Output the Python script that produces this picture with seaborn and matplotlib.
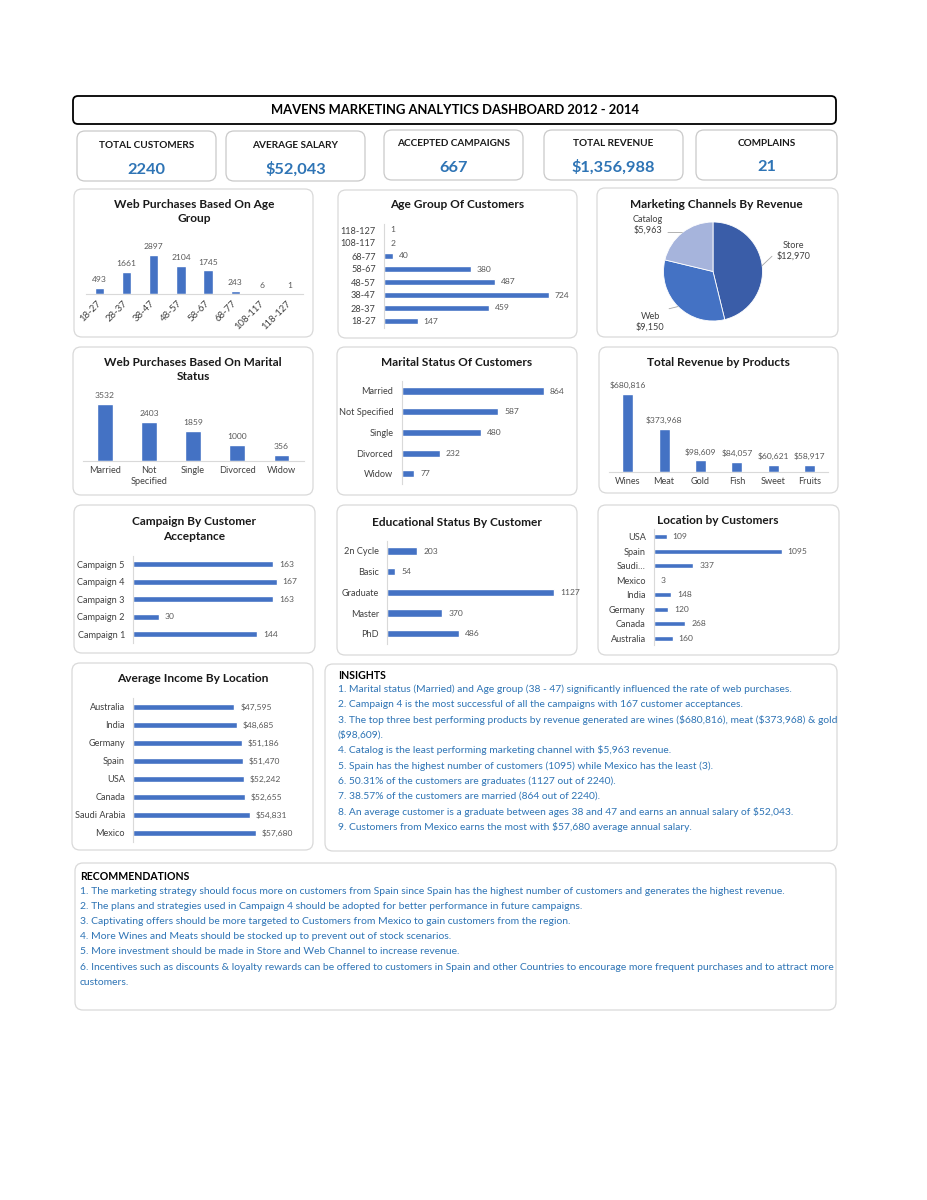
import matplotlib
matplotlib.use('Agg')
import matplotlib.pyplot as plt
from matplotlib.patches import FancyBboxPatch
import numpy as np
import pandas as pd
import seaborn as sns

# ---------------- data ----------------
title_text = "MAVENS MARKETING ANALYTICS DASHBOARD 2012 - 2014"
kpi_labels = ["TOTAL CUSTOMERS", "AVERAGE SALARY", "ACCEPTED CAMPAIGNS", "TOTAL REVENUE", "COMPLAINS"]
kpi_values = ["2240", "$52,043", "667", "$1,356,988", "21"]

age_groups = ["18-27", "28-37", "38-47", "48-57", "58-67", "68-77", "108-117", "118-127"]
web_by_age = [493, 1661, 2897, 2104, 1745, 243, 6, 1]
cust_by_age = [147, 459, 724, 487, 380, 40, 2, 1]

channels = ["Store", "Web", "Catalog"]
channel_rev = [12970, 9150, 5963]

marital = ["Married", "Not Specified", "Single", "Divorced", "Widow"]
marital_ticks = ["Married", "Not\nSpecified", "Single", "Divorced", "Widow"]
web_by_marital = [3532, 2403, 1859, 1000, 356]
cust_by_marital = [864, 587, 480, 232, 77]

products = ["Wines", "Meat", "Gold", "Fish", "Sweet", "Fruits"]
product_rev = [680816, 373968, 98609, 84057, 60621, 58917]

campaigns = ["Campaign 5", "Campaign 4", "Campaign 3", "Campaign 2", "Campaign 1"]
campaign_acc = [163, 167, 163, 30, 144]

education = ["2n Cycle", "Basic", "Graduate", "Master", "PhD"]
edu_cust = [203, 54, 1127, 370, 486]

locations = ["USA", "Spain", "Saudi\u2026", "Mexico", "India", "Germany", "Canada", "Australia"]
loc_cust = [109, 1095, 337, 3, 148, 120, 268, 160]

income_locs = ["Australia", "India", "Germany", "Spain", "USA", "Canada", "Saudi Arabia", "Mexico"]
income_vals = [47595, 48685, 51186, 51470, 52242, 52655, 54831, 57680]

insights = [
    "1. Marital status (Married) and Age group (38 - 47) significantly influenced the rate of web purchases.",
    "2. Campaign 4 is the most successful of all the campaigns with 167 customer acceptances.",
    "3. The top three best performing products by revenue generated are wines ($680,816), meat ($373,968) & gold",
    "($98,609).",
    "4. Catalog is the least performing marketing channel with $5,963 revenue.",
    "5. Spain has the highest number of customers (1095) while Mexico has the least (3).",
    "6. 50.31% of the customers are graduates (1127 out of 2240).",
    "7. 38.57% of the customers are married (864 out of 2240).",
    "8. An average customer is a graduate between ages 38 and 47 and earns an annual salary of $52,043.",
    "9. Customers from Mexico earns the most with $57,680 average annual salary.",
]
recommendations = [
    "1. The marketing strategy should focus more on customers from Spain since Spain has the highest number of customers and generates the highest revenue.",
    "2. The plans and strategies used in Campaign 4 should be adopted for better performance in future campaigns.",
    "3. Captivating offers should be more targeted to Customers from Mexico to gain customers from the region.",
    "4. More Wines and Meats should be stocked up to prevent out of stock scenarios.",
    "5. More investment should be made in Store and Web Channel to increase revenue.",
    "6. Incentives such as discounts & loyalty rewards can be offered to customers in Spain and other Countries to encourage more frequent purchases and to attract more",
    "customers.",
]

# ---------------- style ----------------
sns.set_style("white")
plt.rcParams['font.family'] = ['Lato', 'DejaVu Sans']

BLUE = '#4472C4'
TICK_C = '#404040'
VAL_C = '#595959'
AXIS_C = '#D9D9D9'
PANEL_C = '#D9D9D9'
TXT_BLUE = '#2E74B5'
TITLE_C = '#1A1A1A'
TICK_FS = 6.6
VAL_FS = 6.1

W, H, DPI = 928, 1200, 100
fig = plt.figure(figsize=(W / DPI, H / DPI), dpi=DPI)
fig.patch.set_facecolor('white')

bg = fig.add_axes([0, 0, 1, 1])
bg.set_xlim(0, W)
bg.set_ylim(H, 0)
bg.axis('off')


def rbox(x0, y0, x1, y1, ec=PANEL_C, lw=0.9, r=8):
    bg.add_patch(FancyBboxPatch((x0, y0), x1 - x0, y1 - y0,
                                boxstyle=f"round,pad=0,rounding_size={r}",
                                fc='white', ec=ec, lw=lw, zorder=1))


def btext(x, y, s, **kw):
    kw.setdefault('ha', 'center')
    kw.setdefault('va', 'center')
    bg.text(x, y, s, parse_math=False, zorder=3, **kw)


def px_axes(x0, y0, x1, y1):
    ax = fig.add_axes([x0 / W, 1 - y1 / H, (x1 - x0) / W, (y1 - y0) / H])
    ax.patch.set_alpha(0)
    return ax


def money(v):
    return f"${v:,}"


def plain(v):
    return f"{v}"


def clean(ax):
    for s in ax.spines.values():
        s.set_visible(False)
    ax.set_xlabel('')
    ax.set_ylabel('')


def vbar(cats, vals, labels, c0, step, base, ppu, height_px, width, fmt, rot=False):
    n = len(cats)
    x0 = c0 - step / 2
    ax = px_axes(x0, base - height_px, x0 + n * step, base)
    sns.barplot(x=cats, y=vals, color=BLUE, saturation=1, width=width, ax=ax)
    clean(ax)
    ax.set_xlim(-0.5, n - 0.5)
    ax.set_ylim(0, height_px / ppu)
    ax.spines['bottom'].set_visible(True)
    ax.spines['bottom'].set_color(AXIS_C)
    ax.spines['bottom'].set_linewidth(0.8)
    ax.set_yticks([])
    ax.set_xticks(range(n))
    if rot:
        ax.set_xticklabels(labels, rotation=45, ha='right', va='center', rotation_mode='anchor')
        ax.tick_params(axis='x', which='major', length=0, pad=5.5, labelsize=TICK_FS + 0.3, labelcolor=TICK_C)
    else:
        ax.set_xticklabels(labels, linespacing=1.3)
        ax.tick_params(axis='x', which='major', length=0, pad=4, labelsize=TICK_FS, labelcolor=TICK_C)
    ax.set_xticks(np.arange(-0.5, n), minor=True)
    ax.tick_params(axis='x', which='minor', length=3, color=AXIS_C, width=0.8)
    ax.bar_label(ax.containers[0], labels=[fmt(v) for v in vals], padding=3.5,
                 fontsize=VAL_FS, color=VAL_C, parse_math=False)
    return ax


def hbar(cats, vals, axis_x, ppu, r0, step, width, fmt, right_px):
    n = len(cats)
    y0 = r0 - step / 2
    ax = px_axes(axis_x, y0, right_px, y0 + n * step)
    sns.barplot(x=vals, y=cats, orient='h', color=BLUE, saturation=1, width=width, ax=ax)
    clean(ax)
    ax.set_ylim(n - 0.5, -0.5)
    ax.set_xlim(0, (right_px - axis_x) / ppu)
    ax.spines['left'].set_visible(True)
    ax.spines['left'].set_color(AXIS_C)
    ax.spines['left'].set_linewidth(0.8)
    ax.set_xticks([])
    ax.set_yticks(range(n))
    ax.set_yticklabels(cats)
    ax.tick_params(axis='y', which='major', length=0, pad=6.0, labelsize=TICK_FS, labelcolor=TICK_C)
    ax.set_yticks(np.arange(-0.5, n), minor=True)
    ax.tick_params(axis='y', which='minor', length=2.5, color=AXIS_C, width=0.8)
    ax.bar_label(ax.containers[0], labels=[fmt(v) for v in vals], padding=4.3,
                 fontsize=VAL_FS, color=VAL_C, parse_math=False)
    return ax


# ---------------- header ----------------
rbox(73, 96, 836, 124, ec='#000000', lw=1.3, r=5)
btext(455, 110, title_text, fontsize=9.4, fontweight='bold', color='#000000')

kpi_boxes = [(77, 131, 216, 181), (226, 131, 365, 181), (384, 130, 523, 180),
             (544, 130, 683, 180), (696, 130, 837, 180)]
kpi_label_y = [146, 146, 144, 144, 144]
kpi_value_y = [170, 169, 168, 167, 167]
for (x0, y0, x1, y1), lab, val, ly, vy in zip(kpi_boxes, kpi_labels, kpi_values, kpi_label_y, kpi_value_y):
    rbox(x0, y0, x1, y1, ec='#C9C9C9', lw=0.9, r=8)
    btext((x0 + x1) / 2, ly, lab, fontsize=7.2, fontweight='bold', color='#1A1A1A')
    btext((x0 + x1) / 2, vy, val, fontsize=11.8, fontweight='bold', color=TXT_BLUE)

# ---------------- panels ----------------
panels = [
    ((74, 189, 313, 337), "Web Purchases Based On Age\nGroup", 194, 211.5),
    ((338, 190, 577, 338), "Age Group Of Customers", 457, 205),
    ((597, 188, 838, 337), "Marketing Channels By Revenue", 716, 204),
    ((73, 347, 313, 495), "Web Purchases Based On Marital\nStatus", 193, 369.5),
    ((337, 347, 577, 495), "Marital Status Of Customers", 457, 362),
    ((599, 347, 838, 493), "Total Revenue by Products", 718, 362),
    ((74, 505, 315, 653), "Campaign By Customer\nAcceptance", 194, 529),
    ((337, 505, 577, 655), "Educational Status By Customer", 457, 522),
    ((598, 505, 839, 655), "Location by Customers", 718, 520),
    ((72, 663, 313, 850), "Average Income By Location", 193, 679),
]
for (x0, y0, x1, y1), t, tx, ty in panels:
    rbox(x0, y0, x1, y1)
    btext(tx, ty, t, fontsize=8.6, fontweight='bold', color=TITLE_C, linespacing=1.4)

rbox(325, 664, 837, 851)
rbox(75, 863, 836, 1010)

# ---------------- charts ----------------
vbar(age_groups, web_by_age, age_groups, 99.3, 27.2, 294.3, 39.6 / 2897, 45, 0.34, plain, rot=True)
hbar(age_groups[::-1], cust_by_age[::-1], 384, 165 / 724, 230, 13, 0.42, plain, 570)

# pie
pax = px_axes(713 - 49.5, 222, 713 + 49.5, 321)
wedges, _ = pax.pie(channel_rev, startangle=90, counterclock=False,
                    colors=['#3A5DA8', '#4472C4', '#A6B4DC'],
                    wedgeprops=dict(edgecolor='white', linewidth=0.6))
pax.set_xlim(-1, 1)
pax.set_ylim(-1, 1)
pie_label_pos = [(1.62, 0.41), (-1.27, -1.01), (-1.31, 0.95)]
pie_relpos = [(0.0, 0.45), (0.75, 1.0), (0.85, 0.1)]
for w, name, val, pos, rp in zip(wedges, channels, channel_rev, pie_label_pos, pie_relpos):
    mid = np.deg2rad((w.theta1 + w.theta2) / 2)
    pax.annotate(f"{name}\n{money(val)}", xy=(np.cos(mid), np.sin(mid)), xytext=pos,
                 ha='center', va='center', fontsize=6.6, color=TICK_C, linespacing=1.2,
                 annotation_clip=False, parse_math=False,
                 arrowprops=dict(arrowstyle='-', color='#A6A6A6', lw=0.6, relpos=rp,
                                 shrinkA=1, shrinkB=0))

vbar(marital, web_by_marital, marital_ticks, 104.7, 44.2, 460.7, 57 / 3532, 62, 0.36, plain)
hbar(marital, cust_by_marital, 401.7, 142.3 / 864, 391, 20.7, 0.34, plain, 570)
vbar(products, product_rev, products, 627.7, 36.4, 471.7, 77.4 / 680816, 82, 0.3, money)

hbar(campaigns, campaign_acc, 133.3, 143.4 / 167, 564.3, 17.5, 0.34, plain, 300)
hbar(education, edu_cust, 387.3, 167 / 1127, 551, 20.7, 0.35, plain, 565)
hbar(locations, loc_cust, 654, 127.7 / 1095, 536.7, 14.5, 0.35, plain, 820)

hbar(income_locs, income_vals, 133.3, 122.4 / 57680, 707, 18, 0.3, money, 300)

# ---------------- insights / recommendations ----------------
btext(338, 675.5, "INSIGHTS", ha='left', fontsize=7.6, fontweight='bold', color='#000000')
for i, line in enumerate(insights):
    btext(338, 689 + i * 15.35, line, ha='left', fontsize=7.4, color=TXT_BLUE)

btext(80, 876, "RECOMMENDATIONS", ha='left', fontsize=7.6, fontweight='bold', color='#000000')
for i, line in enumerate(recommendations):
    btext(80, 891 + i * 15.2, line, ha='left', fontsize=7.45, color=TXT_BLUE)

fig.savefig('out.png', dpi=DPI, facecolor='white')
